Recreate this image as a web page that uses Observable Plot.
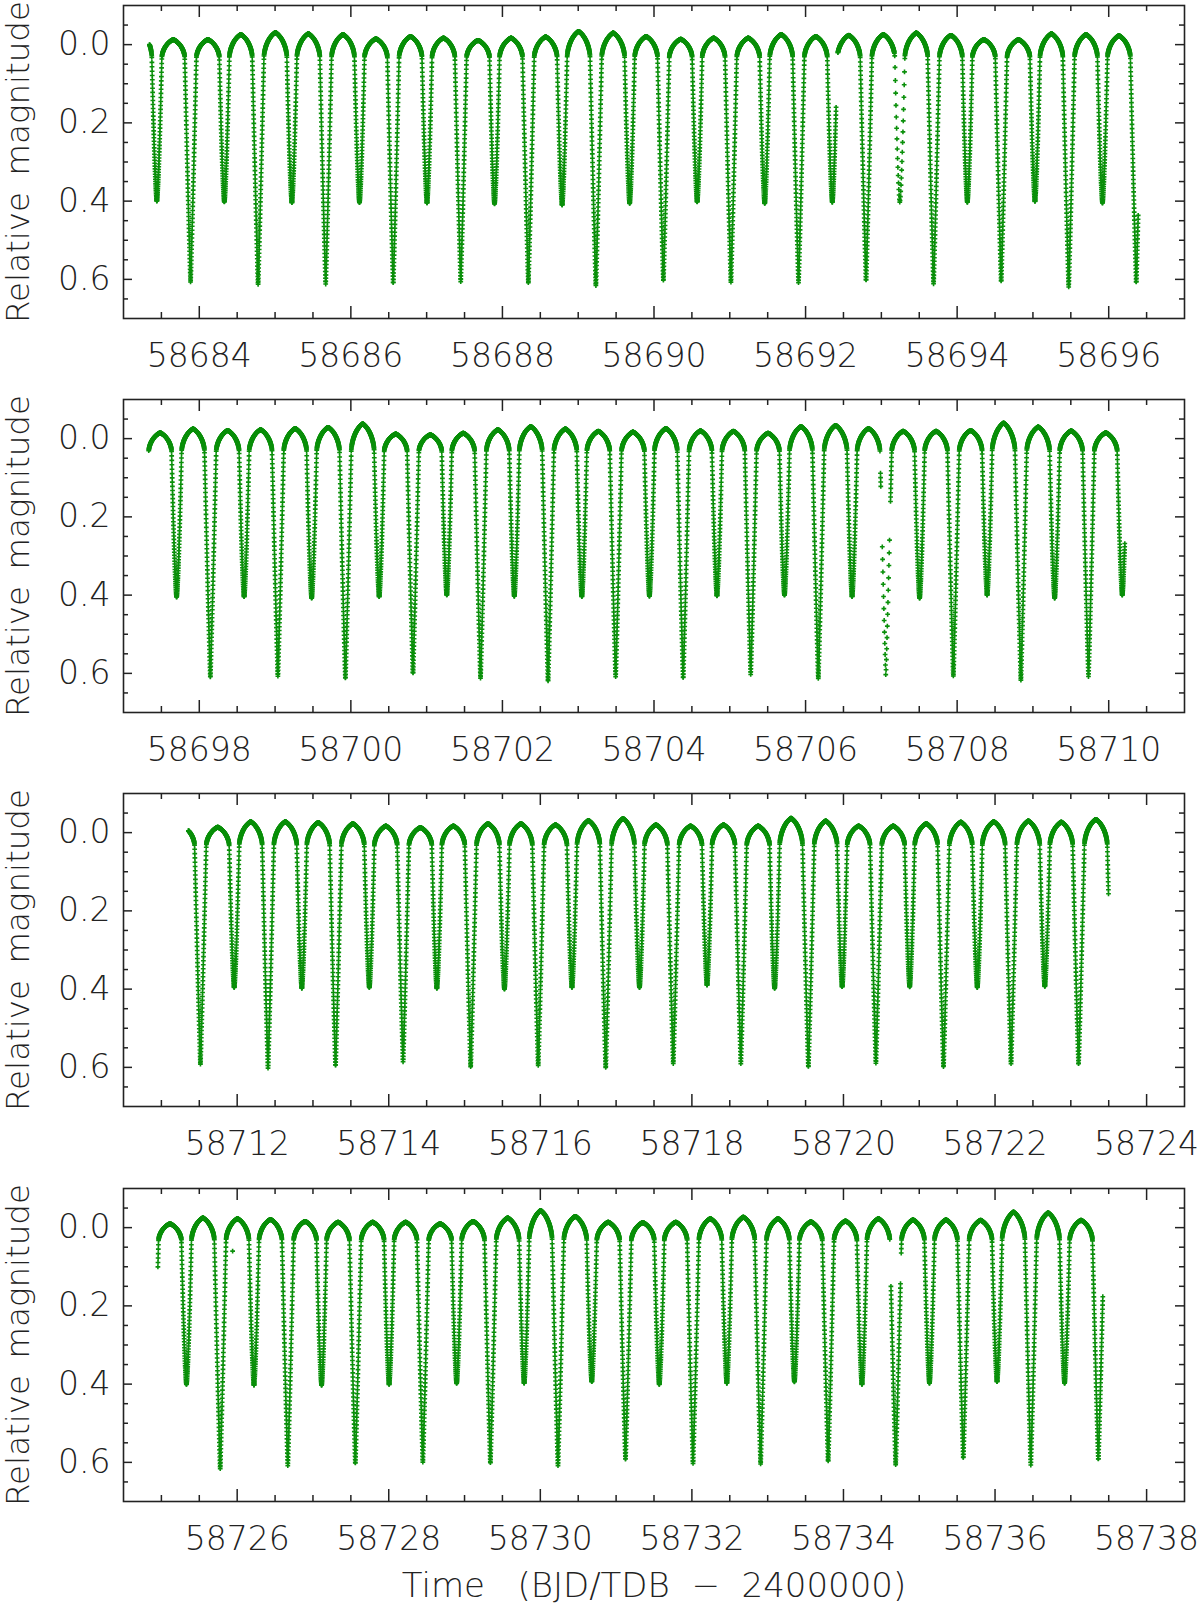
<!DOCTYPE html>
<html><head><meta charset="utf-8">
<script src="https://cdn.jsdelivr.net/npm/d3@7"></script>
<script src="https://cdn.jsdelivr.net/npm/@observablehq/plot@0.6"></script>
<style>
html,body{margin:0;padding:0;background:#fff;}
#wrap{position:relative;width:1200px;height:1605px;overflow:hidden;}
#wrap svg{position:absolute;left:0;}
#wrap svg text{white-space:pre;font-weight:200;}
</style></head><body><div id="wrap"></div>
<script>
// ---- values ----
// primary minima (cycles -1 .. 61), BJD-2400000
const cycleMinima = [58682.994,58683.885,58684.776,58685.668,58686.559,58687.450,58688.342,58689.233,58690.124,58691.015,58691.907,58692.798,58693.689,58694.581,58695.472,58696.363,58697.255,58698.146,58699.037,58699.928,58700.820,58701.711,58702.602,58703.494,58704.385,58705.276,58706.168,58707.059,58707.950,58708.841,58709.733,58710.624,58711.515,58712.407,58713.298,58714.189,58715.081,58715.972,58716.863,58717.754,58718.646,58719.537,58720.428,58721.320,58722.211,58723.102,58723.994,58724.885,58725.776,58726.668,58727.559,58728.450,58729.341,58730.233,58731.124,58732.015,58732.907,58733.798,58734.689,58735.581,58736.472,58737.363,58738.254];
const primaryDepth = [0.610,0.608,0.614,0.612,0.611,0.606,0.610,0.617,0.604,0.608,0.609,0.604,0.612,0.606,0.620,0.609,0.610,0.611,0.608,0.614,0.601,0.613,0.621,0.609,0.613,0.603,0.614,0.608,0.608,0.619,0.608,0.600,0.593,0.602,0.597,0.586,0.600,0.596,0.602,0.591,0.591,0.600,0.590,0.600,0.591,0.593,0.600,0.610,0.617,0.609,0.604,0.600,0.603,0.609,0.594,0.603,0.605,0.598,0.607,0.590,0.607,0.594,0.600];
const secondaryDepth = [0.400,0.402,0.404,0.404,0.405,0.407,0.410,0.406,0.402,0.406,0.403,0.403,0.403,0.401,0.405,0.400,0.405,0.404,0.408,0.404,0.400,0.403,0.404,0.403,0.402,0.400,0.404,0.408,0.400,0.408,0.400,0.400,0.396,0.398,0.396,0.398,0.400,0.396,0.396,0.390,0.398,0.394,0.394,0.396,0.393,0.400,0.400,0.401,0.403,0.403,0.401,0.398,0.398,0.394,0.401,0.398,0.394,0.401,0.398,0.394,0.398,0.400,0.400];
const peakAfterPrimary = [-0.035,-0.013,-0.031,-0.026,-0.021,-0.011,-0.020,-0.030,-0.014,-0.017,-0.021,-0.026,-0.024,-0.013,-0.026,-0.020,-0.015,-0.021,-0.026,-0.038,-0.010,-0.023,-0.025,-0.017,-0.020,-0.014,-0.034,-0.019,-0.021,-0.030,-0.015,-0.020,-0.014,-0.028,-0.023,-0.013,-0.023,-0.020,-0.036,-0.017,-0.017,-0.030,-0.017,-0.027,-0.030,-0.034,-0.020,-0.010,-0.023,-0.016,-0.014,-0.010,-0.025,-0.029,-0.013,-0.023,-0.023,-0.017,-0.020,-0.019,-0.038,-0.020,-0.020];
const peakAfterSecondary = [-0.013,-0.026,-0.028,-0.015,-0.017,-0.017,-0.034,-0.021,-0.017,-0.026,-0.024,-0.030,-0.013,-0.028,-0.023,-0.020,-0.025,-0.023,-0.029,-0.012,-0.014,-0.031,-0.019,-0.026,-0.019,-0.031,-0.026,-0.019,-0.040,-0.020,-0.020,-0.015,-0.028,-0.026,-0.017,-0.017,-0.023,-0.031,-0.020,-0.020,-0.037,-0.017,-0.023,-0.028,-0.027,-0.020,-0.020,-0.025,-0.021,-0.014,-0.014,-0.016,-0.044,-0.014,-0.014,-0.027,-0.015,-0.023,-0.020,-0.040,-0.019,-0.020,-0.020];
const secondaryOffset = 0.4457;     // secondary minimum after primary (d)
const halfWidthPrimary = 0.077;     // eclipse half-widths (d)
const halfWidthSecondary = 0.066;
const contactLevel = 0.035;         // magnitude at first/last contact
const cadence = 2 / 1440;           // 2-min sampling

const panelRanges = [[58683, 58697], [58697, 58711], [58710.5, 58724.5], [58724.5, 58738.5]];
const dataSpans = [[58683.343, 58696.390], [58697.333, 58710.213], [58711.357, 58723.498], [58724.954, 58737.423]];
const gaps = [[58692.403, 58692.425], [58706.982, 58706.988], [58706.993, 58707.008], [58707.110, 58707.120], [58734.612, 58734.625], [58734.753, 58734.761]];
const sparse = [[58693.17, 58693.31], [58707.008, 58707.110]];
const outlierTimes = [58725.94];
const outlierMags = [0.06];

const yMajor = [0, 0.2, 0.4, 0.6];
const yLabel = "Relative\u2002magnitude";
const xLabel = "Time   (BJD/TDB  \u2212  2400000)";

// ---- build the light curve from the values above ----
function eclipse(D, x, p) { return D - (D - contactLevel) * Math.pow(Math.min(1, x), p); }
function hump(peak, a, b, t) {
  let u = (2 * t - a - b) / (b - a); u = Math.max(-1, Math.min(1, u));
  const g = 0.75 * (1 - Math.sqrt(1 - u * u)) + 0.25 * Math.abs(u);
  return peak + (contactLevel - peak) * g;
}
function magAt(t) {
  const c = d3.bisectRight(cycleMinima, t) - 1;
  const T = cycleMinima[c], Tn = cycleMinima[c + 1], S = T + secondaryOffset;
  if (t - T <= halfWidthPrimary) return eclipse(primaryDepth[c], (t - T) / halfWidthPrimary, 1.1);
  if (Tn - t <= halfWidthPrimary) return eclipse(primaryDepth[c + 1], (Tn - t) / halfWidthPrimary, 1.1);
  if (Math.abs(t - S) <= halfWidthSecondary) return eclipse(secondaryDepth[c], Math.abs(t - S) / halfWidthSecondary, 1.5);
  if (t < S) return hump(peakAfterPrimary[c], T + halfWidthPrimary, S - halfWidthSecondary, t);
  return hump(peakAfterSecondary[c], S + halfWidthSecondary, Tn - halfWidthPrimary, t);
}
function panelPoints(i) {
  const [a, b] = dataSpans[i];
  const pts = [];
  const n = Math.floor((b - a) / cadence);
  for (let k = 0; k <= n; k++) {
    const t = a + k * cadence;
    if (gaps.some(([g0, g1]) => t >= g0 && t <= g1)) continue;
    if (sparse.some(([s0, s1]) => t >= s0 && t <= s1) && k % 3 !== 0) continue;
    pts.push({t, m: magAt(t)});
  }
  outlierTimes.forEach((t, j) => { if (t >= a && t <= b) pts.push({t, m: outlierMags[j]}); });
  return pts;
}

const W = 1200, ML = 123, MR = 16, MT = 5, PH = 313;
const tops = [0, 394, 788, 1183];
const ink = "#222222";
const green = "#0a8f0a";

function makePanel(i) {
  const [x0, x1] = panelRanges[i];
  const last = i === 3;
  const MB = last ? 104 : 76;
  const H = MT + PH + MB;
  const majors = d3.range(Math.ceil(x0 / 2) * 2, x1 + 1e-9, 2).filter(v => v > x0 && v < x1);
  const minors = d3.range(Math.ceil(x0 * 2) / 2, x1 + 1e-9, 0.5).filter(v => v > x0 && v < x1 && !majors.includes(v));
  const yMinor = d3.range(-0.05, 0.7, 0.05).map(v => +v.toFixed(2)).filter(v => !yMajor.includes(v));
  const plotW = W - ML - MR;
  const marks = [
    Plot.dot(panelPoints(i), {x: "t", y: "m", symbol: "cross", r: 2.0, fill: green, stroke: null}),
    Plot.tickX(majors, {x: d => d, stroke: ink, strokeWidth: 1.5, insetTop: PH - 12}),
    Plot.tickX(minors, {x: d => d, stroke: ink, strokeWidth: 1.5, insetTop: PH - 6}),
    Plot.tickX(majors, {x: d => d, stroke: ink, strokeWidth: 1.5, insetBottom: PH - 12}),
    Plot.tickX(minors, {x: d => d, stroke: ink, strokeWidth: 1.5, insetBottom: PH - 6}),
    Plot.tickY(yMajor, {y: d => d, stroke: ink, strokeWidth: 1.5, insetRight: plotW - 9}),
    Plot.tickY(yMinor, {y: d => d, stroke: ink, strokeWidth: 1.5, insetRight: plotW - 5}),
    Plot.tickY(yMajor, {y: d => d, stroke: ink, strokeWidth: 1.5, insetLeft: plotW - 9}),
    Plot.tickY(yMinor, {y: d => d, stroke: ink, strokeWidth: 1.5, insetLeft: plotW - 5}),
    Plot.frame({stroke: ink, strokeWidth: 1.6}),
    Plot.axisX({ticks: majors, tickSize: 0, tickPadding: 25, tickFormat: d => String(d), fontSize: 33, label: null, fill: ink}),
    Plot.axisY({ticks: yMajor, tickSize: 0, tickPadding: 13, tickFormat: d => d.toFixed(1), fontSize: 33, label: null, fill: ink}),
    Plot.text([yLabel], {frameAnchor: "left", rotate: -90, dx: -95, lineAnchor: "bottom", textAnchor: "middle", fontSize: 32.5, fill: ink})
  ];
  if (last) marks.push(Plot.text([xLabel], {frameAnchor: "bottom", dy: 95, lineAnchor: "bottom", textAnchor: "middle", fontSize: 34, fill: ink}));
  const svg = Plot.plot({
    width: W, height: H,
    marginLeft: ML, marginRight: MR, marginTop: MT, marginBottom: MB,
    x: {domain: [x0, x1], label: null},
    y: {domain: [-0.1, 0.7], reverse: true, label: null},
    style: {fontFamily: "'DejaVu Sans', sans-serif", background: "transparent", overflow: "visible", color: ink},
    marks
  });
  svg.style.top = tops[i] + "px";
  return svg;
}
const wrap = document.getElementById("wrap");
for (let i = 0; i < 4; i++) wrap.appendChild(makePanel(i));
</script>
</body></html>
